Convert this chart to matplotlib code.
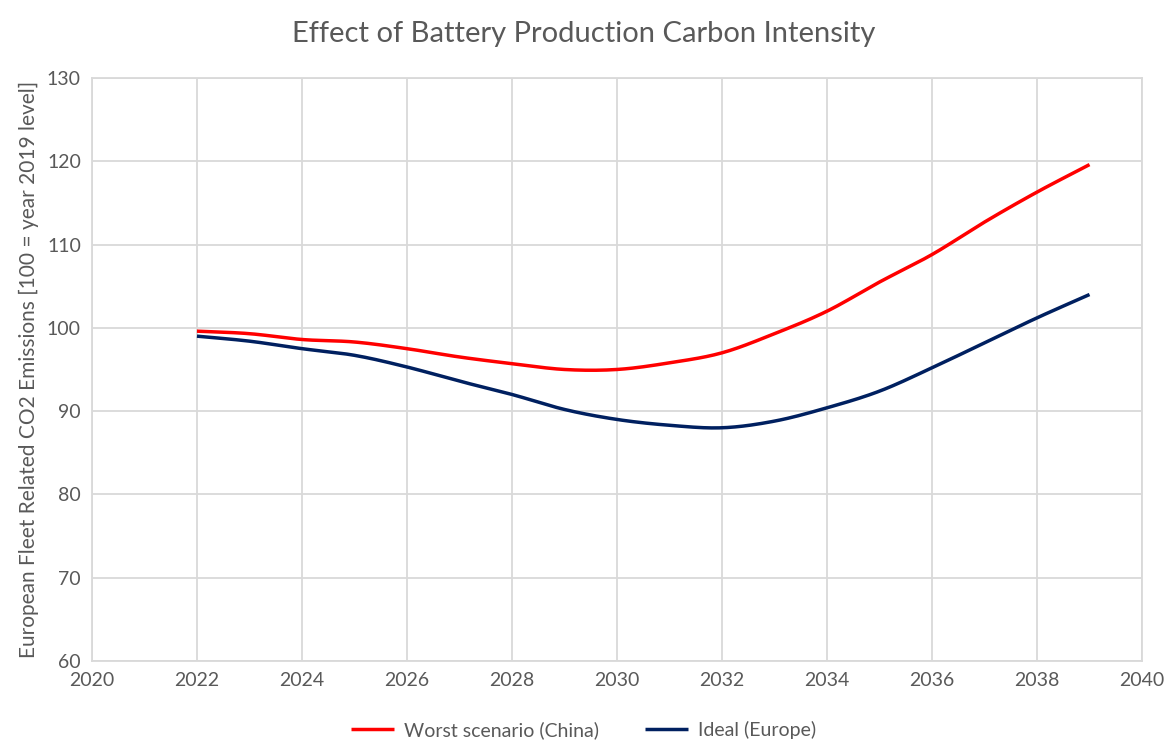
import numpy as np
import matplotlib.pyplot as plt

years = [2022, 2023, 2024, 2025, 2026, 2027, 2028, 2029, 2030,
         2031, 2032, 2033, 2034, 2035, 2036, 2037, 2038, 2039]
worst_china = [99.6, 99.3, 98.6, 98.3, 97.5, 96.5, 95.7, 95.0, 95.0,
               95.8, 97.0, 99.3, 102.0, 105.5, 108.8, 112.7, 116.3, 119.6]
ideal_europe = [99.0, 98.4, 97.5, 96.7, 95.3, 93.6, 92.0, 90.2, 89.0,
                88.3, 88.0, 88.8, 90.4, 92.4, 95.2, 98.2, 101.2, 104.0]

series_labels = ["Worst scenario (China)", "Ideal (Europe)"]
x_ticks = list(range(2020, 2041, 2))
y_ticks = list(range(60, 131, 10))


def smooth(x, y, n=20):
    # Catmull-Rom curve through the points, like Excel's smoothed line
    x = np.asarray(x, float)
    y = np.asarray(y, float)
    px = np.concatenate([[2 * x[0] - x[1]], x, [2 * x[-1] - x[-2]]])
    py = np.concatenate([[2 * y[0] - y[1]], y, [2 * y[-1] - y[-2]]])
    xs, ys = [], []
    t = np.linspace(0, 1, n, endpoint=False)
    for i in range(1, len(px) - 2):
        for p, out in ((px, xs), (py, ys)):
            p0, p1, p2, p3 = p[i - 1], p[i], p[i + 1], p[i + 2]
            out.extend(0.5 * (2 * p1 + (-p0 + p2) * t
                              + (2 * p0 - 5 * p1 + 4 * p2 - p3) * t ** 2
                              + (-p0 + 3 * p1 - 3 * p2 + p3) * t ** 3))
    xs.append(x[-1])
    ys.append(y[-1])
    return np.array(xs), np.array(ys)


plt.rcParams['font.family'] = ['Lato', 'DejaVu Sans']
text_color = '#595959'
grid_color = '#d9d9d9'

fig = plt.figure(figsize=(11.67, 7.42), dpi=100)
ax = fig.add_axes([0.0788, 0.1092, 0.8998, 0.7857])

for vals, color, label in ((worst_china, '#ff0000', series_labels[0]),
                           (ideal_europe, '#002060', series_labels[1])):
    sx, sy = smooth(years, vals)
    ax.plot(sx, sy, color=color, linewidth=2.5, label=label,
            solid_capstyle='butt')

ax.set_xlim(2020, 2040)
ax.set_ylim(60, 130)
ax.set_xticks(x_ticks)
ax.set_yticks(y_ticks)
ax.grid(True, color=grid_color, linewidth=1.3)
ax.set_axisbelow(True)
for s in ax.spines.values():
    s.set_color(grid_color)
    s.set_linewidth(1.3)
ax.tick_params(length=0, labelsize=14, colors=text_color, pad=8)

ax.set_ylabel("European Fleet Related CO2 Emissions [100 = year 2019 level]",
              fontsize=15, color=text_color, labelpad=6)
fig.suptitle("Effect of Battery Production Carbon Intensity",
             fontsize=21, color=text_color, y=0.972)

fig.legend(loc='center', bbox_to_anchor=(0.5, 0.016), ncol=2, frameon=False,
           fontsize=14, labelcolor=text_color, handlelength=2.2,
           handletextpad=0.5, columnspacing=2.4, borderpad=0.1)

fig.savefig('out.png', dpi=100)
